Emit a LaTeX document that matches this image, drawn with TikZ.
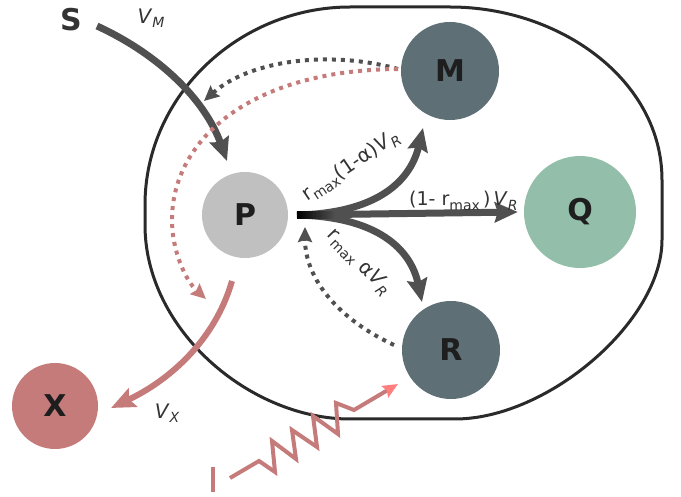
\documentclass[tikz,border=0pt]{standalone}
\usepackage{fontspec}
\setmainfont{DejaVu Sans}
\usetikzlibrary{arrows.meta}
\definecolor{arr}{HTML}{505050}
\definecolor{pinkc}{HTML}{C67B7B}
\definecolor{salmon}{HTML}{FF7F7F}
\definecolor{pcol}{HTML}{C0C0C0}
\definecolor{mcol}{HTML}{5E6F76}
\definecolor{qcol}{HTML}{93BFAA}
\definecolor{txt}{HTML}{1E1E1E}
\definecolor{lab}{HTML}{333333}
\definecolor{outl}{HTML}{2A2A2A}
\newcommand\mysub[1]{\raisebox{-0.22em}{\fontsize{14}{14}\selectfont #1}}
\newcommand\myisub[1]{\raisebox{-0.22em}{\fontsize{14}{14}\selectfont\itshape #1}}
\begin{document}
\begin{tikzpicture}[x=1pt,y=-1pt,
  pool/.style={circle,inner sep=0pt,minimum size=#1,font=\fontsize{30}{30}\selectfont\bfseries,text=txt},
  flux/.style={line width=7pt,draw=arr,-{Stealth[length=23pt,width=20pt,inset=3pt]}},
  pflux/.style={line width=6pt,draw=pinkc,-{Stealth[length=24pt,width=20pt,inset=4pt]}},
  dotarr/.style={line width=4pt,dash pattern=on 4pt off 5pt,-{Stealth[length=15pt,width=14pt,inset=2pt]}},
  labl/.style={font=\fontsize{20}{20}\selectfont,text=lab,inner sep=0pt}
]
\useasboundingbox (0,0) rectangle (681,497);

% cell outline
\draw[line width=3pt,draw=outl] (662,180) .. controls (662,80) and (560,7) .. (450,7) -- (350,7)
  .. controls (240,7) and (145,95) .. (145,205) -- (145,225)
  .. controls (145,330) and (250,419) .. (350,419) -- (455,419)
  .. controls (548,419) and (662,321) .. (662,240) -- cycle;

% pools
\node[pool=86pt,fill=pcol] (P) at (245,215) {P};
\node[pool=98pt,fill=mcol] (M) at (450,71) {M};
\node[pool=112pt,fill=qcol] (Q) at (580,212) {Q};
\node[pool=98pt,fill=mcol] (R) at (451,350) {R};
\node[pool=86pt,fill=pinkc] (X) at (55,406) {X};
\node[font=\fontsize{30}{30}\selectfont\bfseries,text=lab,inner sep=0pt] (S) at (71,20) {S};

% coordinates
\coordinate (sstart) at (97,26);
\coordinate (stip) at (227,161);
\coordinate (br) at (297,215);
\coordinate (tipM) at (423,128);
\coordinate (tipR) at (422,302);
\coordinate (mout) at (398,69);
\coordinate (tipd1) at (204,101);
\coordinate (tipd2) at (206,299);
\coordinate (rout) at (394,345);
\coordinate (tipP) at (305,227);
\coordinate (xstart) at (232,281);
\coordinate (tipX) at (111,408);
\coordinate (zstart) at (230,478);
\coordinate (tipZ) at (398,384);
\coordinate (bartop) at (213,467);
\coordinate (barbot) at (213,492);

% uptake
\draw[flux] (sstart) .. controls (160,55) and (205,100) .. (stip);

% branching fluxes
\draw[flux] (br) -- ([xshift=-6pt]Q.west);
\draw[flux] (br) .. controls (385,213) and (412,175) .. (tipM);
\draw[flux] (br) .. controls (385,217) and (412,255) .. (tipR);
\shade[left color=black,right color=arr] (297,211.5) rectangle (335,218.5);

% dotted feedbacks
\draw[dotarr,draw=arr] (mout) .. controls (330,50) and (250,60) .. (tipd1);
\draw[dotarr,draw=pinkc] (mout) .. controls (250,70) and (172,140) .. (172,220)
  .. controls (172,250) and (185,280) .. (tipd2);
\draw[dotarr,draw=arr] (rout) .. controls (340,320) and (305,280) .. (tipP);

% excretion
\draw[pflux] (xstart) .. controls (215,340) and (170,380) .. (tipX);

% light
\draw[line width=4pt,draw=pinkc,line join=miter,
  -{Stealth[length=15pt,width=13pt,inset=2pt,color=salmon]}]
  (zstart) -- (259,461) -- (275,472) -- (272,441) -- (296,459) -- (292,430) -- (317,447)
  -- (313,416) -- (338,434) -- (336,403) -- (354,410) -- (tipZ);
\draw[line width=4pt,draw=pinkc] (bartop) -- (barbot);

% labels
\node[labl] (vm) at (151,18) {\textit{V}\myisub{M}};
\node[labl] (vx) at (167,413) {\textit{V}\myisub{X}};
\node[labl,rotate=34] (l1) at (351,166) {r\mysub{max}(1-α)\textit{V}\myisub{R}};
\node[labl,rotate=-46] (l2) at (359,262) {r\mysub{max} α\textit{V}\myisub{R}};
\node[labl,font=\fontsize{19}{19}\selectfont,anchor=base west] (l3) at (409,206) {(1- r\mysub{max}\,)\,\textit{V}\myisub{R}};
\end{tikzpicture}
\end{document}
